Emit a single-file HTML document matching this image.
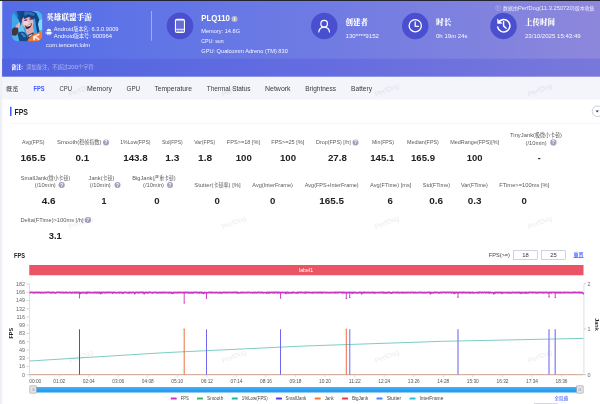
<!DOCTYPE html>
<html lang="zh-CN"><head><meta charset="utf-8"><title>PerfDog FPS</title>
<style>
html,body{margin:0;padding:0;width:600px;height:404px;overflow:hidden;background:#eef0f6;}
#root{position:absolute;left:0;top:0;width:2400px;height:1616px;transform:scale(0.25);transform-origin:0 0;overflow:hidden;background:#eef0f6;}
.b{position:absolute;display:block;}
.t{position:absolute;display:block;white-space:nowrap;}
.c{font-style:normal;font-size:86%;font-weight:400;}
.q{border-radius:50%;background:#9ea2bf;color:#fff;font-family:'Liberation Sans','Noto Sans CJK SC',sans-serif;font-weight:700;text-align:center;}
</style></head><body><div id="root">
<div class="b" style="left:0.00px;top:0.00px;width:2400.00px;height:3.80px;background:#22252f;"></div>
<div class="b" style="left:9.20px;top:4.00px;width:2390.80px;height:303.00px;background:linear-gradient(90deg,#546ce6 0%,#5d73e6 20%,#6f7be3 53%,#8a86dc 96%,#8c87db 100%);"></div>
<div class="b" style="left:9.20px;top:235.00px;width:2390.80px;height:72.00px;background:linear-gradient(90deg,#5062e0 0%,#5868e0 20%,#656ce0 53%,#7777db 96%,#7878db 100%);"></div>
<div class="b" style="left:9.20px;top:307.00px;width:2390.80px;height:90.80px;background:#f4f5fa;"></div>
<div class="b" style="left:9.20px;top:397.80px;width:2390.80px;height:1218.20px;background:#fff;"></div>
<div class="b" style="left:40.00px;top:427.20px;width:6.40px;height:36.80px;background:#3d5afe;"></div>
<div class="b" style="left:40.00px;top:493.60px;width:2360.00px;height:2.40px;background:#ebedf2;"></div>
<div class="b" style="left:604.40px;top:43.60px;width:3.20px;height:119.60px;background:rgba(255,255,255,.4);"></div>
<div class="b" style="left:666.80px;top:50.40px;width:106.40px;height:106.40px;background:#4a4fcf;border-radius:50%;"></div>
<div class="b" style="left:1243.80px;top:51.00px;width:106.40px;height:106.40px;background:#4a4fcf;border-radius:50%;"></div>
<div class="b" style="left:1607.60px;top:51.00px;width:106.40px;height:106.40px;background:#4a4fcf;border-radius:50%;"></div>
<div class="b" style="left:1960.80px;top:51.00px;width:106.40px;height:106.40px;background:#4a4fcf;border-radius:50%;"></div>
<div class="b q" style="left:411.60px;top:557.60px;width:24.80px;height:24.80px;line-height:24.80px;font-size:19.22px;">?</div>
<div class="b q" style="left:1409.60px;top:557.60px;width:24.80px;height:24.80px;line-height:24.80px;font-size:19.22px;">?</div>
<div class="b q" style="left:2200.80px;top:556.80px;width:24.80px;height:24.80px;line-height:24.80px;font-size:19.22px;">?</div>
<div class="b q" style="left:234.40px;top:727.60px;width:24.80px;height:24.80px;line-height:24.80px;font-size:19.22px;">?</div>
<div class="b q" style="left:457.60px;top:727.60px;width:24.80px;height:24.80px;line-height:24.80px;font-size:19.22px;">?</div>
<div class="b q" style="left:667.60px;top:727.60px;width:24.80px;height:24.80px;line-height:24.80px;font-size:19.22px;">?</div>
<div class="b q" style="left:338.80px;top:867.60px;width:24.80px;height:24.80px;line-height:24.80px;font-size:19.22px;">?</div>
<div class="b" style="left:926.40px;top:63.60px;width:23.20px;height:23.20px;border-radius:50%;background:#b9bac4;color:#fff;font:700 18.40px/23.20px 'Liberation Sans','Noto Serif CJK SC',serif;text-align:center;">i</div>
<div class="b" style="left:1981.60px;top:22.40px;width:20.80px;height:20.80px;box-sizing:border-box;border:1.80px solid rgba(255,255,255,.85);border-radius:50%;color:rgba(255,255,255,.9);font:400 15.20px/17.20px 'Liberation Sans','Noto Sans CJK SC',sans-serif;text-align:center;">i</div>
<div class="b" style="left:2368.20px;top:423.00px;width:43.60px;height:43.60px;box-sizing:border-box;border:2.20px solid #9499b3;border-radius:50%;"></div>
<div class="b" style="left:2382.00px;top:441.60px;width:0;height:0;border-left:7.00px solid transparent;border-right:7.00px solid transparent;border-top:8.00px solid #33364f;"></div>
<div class="b" style="left:116.80px;top:1060.00px;width:2217.60px;height:40.80px;background:#ea5465;"></div>
<div class="b" style="left:2052.80px;top:1002.00px;width:98.00px;height:36.40px;box-sizing:border-box;border:2.20px solid #9fa5bf;background:#fff;"></div>
<div class="b" style="left:2164.80px;top:1002.00px;width:98.00px;height:36.40px;box-sizing:border-box;border:2.20px solid #9fa5bf;background:#fff;"></div>
<div class="b" style="left:132.00px;top:1547.60px;width:2188.00px;height:22.00px;background:linear-gradient(#4ab2f6,#2a9ff0 60%,#2299ee);"></div>
<div class="b" style="left:118.00px;top:1542.40px;width:28.80px;height:31.20px;box-sizing:border-box;border:2.00px solid #90939b;background:#e3e4e8;border-radius:3.20px;"></div>
<div class="b" style="left:128.20px;top:1553.20px;width:1.20px;height:10.40px;background:#8c8f96;"></div>
<div class="b" style="left:131.80px;top:1553.20px;width:1.20px;height:10.40px;background:#8c8f96;"></div>
<div class="b" style="left:135.40px;top:1553.20px;width:1.20px;height:10.40px;background:#8c8f96;"></div>
<div class="b" style="left:2305.20px;top:1542.40px;width:28.40px;height:31.20px;box-sizing:border-box;border:2.00px solid #90939b;background:#e3e4e8;border-radius:3.20px;"></div>
<div class="b" style="left:2315.20px;top:1553.20px;width:1.20px;height:10.40px;background:#8c8f96;"></div>
<div class="b" style="left:2318.80px;top:1553.20px;width:1.20px;height:10.40px;background:#8c8f96;"></div>
<div class="b" style="left:2322.40px;top:1553.20px;width:1.20px;height:10.40px;background:#8c8f96;"></div>
<div class="b" style="left:682.80px;top:1589.80px;width:24.00px;height:8.00px;background:#cc33c4;border-radius:2.40px;"></div>
<div class="b" style="left:788.00px;top:1589.80px;width:24.00px;height:8.00px;background:#3cb55e;border-radius:2.40px;"></div>
<div class="b" style="left:926.80px;top:1589.80px;width:24.00px;height:8.00px;background:#1fb3aa;border-radius:2.40px;"></div>
<div class="b" style="left:1104.00px;top:1589.80px;width:24.00px;height:8.00px;background:#4b3ff0;border-radius:2.40px;"></div>
<div class="b" style="left:1258.80px;top:1589.80px;width:24.00px;height:8.00px;background:#f5792a;border-radius:2.40px;"></div>
<div class="b" style="left:1368.00px;top:1589.80px;width:24.00px;height:8.00px;background:#e83b3b;border-radius:2.40px;"></div>
<div class="b" style="left:1506.00px;top:1589.80px;width:24.00px;height:8.00px;background:#3f86ff;border-radius:2.40px;"></div>
<div class="b" style="left:1638.00px;top:1589.80px;width:24.00px;height:8.00px;background:#29c5d6;border-radius:2.40px;"></div>
<div class="b" style="left:2134.80px;top:1612.80px;width:95.20px;height:3.20px;background:#c9c9cf;"></div>
<svg class="b" style="left:45.60px;top:42.80px" width="124" height="123.2" viewBox="0 0 31 30.8">
<defs><clipPath id="ic"><rect x="0" y="0" width="31" height="30.8" rx="7.2" ry="7.2"/></clipPath>
<filter id="bl" x="-20%" y="-20%" width="140%" height="140%"><feGaussianBlur stdDeviation="0.5"/></filter>
<filter id="bl2" x="-20%" y="-20%" width="140%" height="140%"><feGaussianBlur stdDeviation="0.28"/></filter></defs>
<g clip-path="url(#ic)"><rect width="31" height="30.8" fill="#3aa2e4"/>
<g filter="url(#bl)">
<path d="M21 0 L31 0 L31 23 L25 22 L27 10 Z" fill="#48b4ee"/>
<path d="M25 11 L31 8 L31 19 L27.6 20 Z" fill="#86daf8"/>
<path d="M0 5 L8 10 L6 22 L0 24 Z" fill="#3fa8e8"/>
<path d="M6 13 L11 12 L13 21 L7 25 Z" fill="#69c8f2"/>
<path d="M0 24 L8 22 L12 31 L0 31 Z" fill="#4ab4ec"/>
<!-- hair top -->
<path d="M5.5 1.2 C9 -1 20 -1 25 2.6 L27.8 9 L26 15 L23.4 8 L18 5 L12.4 6.4 L9.6 12 L8 6 Z" fill="#15427f"/>
<path d="M13 0.8 C16 0 21 1 23.6 3.6 L22 5.2 L16.6 3.8 L12.4 5 Z" fill="#2a6fb8"/>
<!-- ponytail left up -->
<path d="M3.6 0.6 L8.6 0 L10.4 9 L9.4 15.4 L7.4 9.6 L5 5 Z" fill="#184a8c"/>
<path d="M1.6 1 L5 0.4 L7.2 6.4 L4.4 5 Z" fill="#2c7fca"/>
<!-- braid right -->
<path d="M23.6 8.6 L26.2 11.6 L28 21 L25.8 23 L24.6 16 Z" fill="#164382"/>
<!-- lower hair sweep -->
<path d="M6 23 C9 19.6 12.4 20 15 24 L18.4 31 L8 31 Z" fill="#17488a"/>
<path d="M9 22.4 C11.4 21.4 13.2 23 14.8 26.6 L12 26.4 Z" fill="#3585cc"/>
<!-- neck/shoulder -->
<path d="M14.6 16 L21.4 15 L23 23.6 L16.4 25.4 L14.4 21 Z" fill="#d9a9b4"/>
<!-- face -->
<ellipse cx="16.2" cy="11.4" rx="5.6" ry="7.0" transform="rotate(-16 16.2 11.4)" fill="#e3b6c2"/>
<ellipse cx="14.6" cy="12.6" rx="2.6" ry="3.0" fill="#f0d3d9"/>
<path d="M11.4 5.6 L17 3.8 L22.6 6.6 L22 9 L17.6 6.2 L12.6 8.2 Z" fill="#15427f"/>
</g>
<g filter="url(#bl2)">
<!-- eyes -->
<path d="M12.6 9.2 L15.6 8.4 L15.8 9.7 L13 10.3 Z" fill="#5b2346"/>
<path d="M17.8 7.8 L20.8 7.3 L20.9 8.7 L18.2 9 Z" fill="#5b2346"/>
<!-- mouth -->
<path d="M13 14.4 C15.4 15.2 18.6 14.2 20.4 12.2 C20.4 16.2 17.2 18.8 14.8 18 Z" fill="#4e1c2c"/>
<path d="M13.8 14.7 C15.8 15.2 18.2 14.5 19.8 13 L19.5 14.2 C18 15.6 15.6 16 14.2 15.6 Z" fill="#fff"/>
<!-- hand -->
<path d="M0.4 18.4 L3.6 16 L6.6 17.4 L7 21.4 L4.4 25 L0.4 24.6 Z" fill="#43343f"/>
<path d="M4.8 15.8 L7.6 11.6 L8.7 12.4 L7.2 16.8 Z" fill="#e4bcbc"/>
<path d="M3.4 16.4 L5.6 13 L6.5 13.8 L5.2 17 Z" fill="#cfa7ab"/>
<!-- orange -->
<path d="M18 25 L25 22.6 L31 20.6 L31 31 L15.8 31 Z" fill="#f4783a"/>
<path d="M21.4 25.4 L27.6 22.8 L28 24.2 L25 25.8 L28.2 28.4 L27 29.4 L24 26.9 L23.4 29.6 L21.8 29.4 Z" fill="#fde9dc"/>
<!-- necklace dark -->
<path d="M15.6 24.4 L21.8 21.4 L22.6 23.2 L18.6 26.8 L17 28.4 Z" fill="#45434f"/>
<path d="M16.8 25.2 L20.6 23.2 L21 24 L17.6 26.4 Z" fill="#d8d2cc"/>
</g></g></svg>
<svg class="b" style="left:0;top:0" width="2400" height="400" viewBox="0 0 600 100" fill="none" stroke="#fff" stroke-linecap="round" stroke-linejoin="round">
<rect x="175.45" y="19.3" width="9.0" height="13.1" rx="1.5" stroke-width="1.1" fill="rgba(255,255,255,.16)"/><path d="M176.4 19.9 H183.5" stroke-width="1.3"/>
<path d="M175.5 29.3 H184.5" stroke-width="0.9"/><path d="M177.6 31 h1.6 M180.8 31 h1.6" stroke-width="0.7"/>
<circle cx="324.15" cy="23.7" r="3.3" stroke-width="1.2"/><path d="M318.8 32.0 a5.35 4.9 0 0 1 10.7 0" stroke-width="1.2"/>
<circle cx="415.25" cy="25.7" r="6.1" stroke-width="1.3"/><path d="M415.2 22.0 V26.3 H418.4" stroke-width="1.3"/>
<path d="M498.44 22.51 A6.2 6.2 0 1 1 497.64 27.09" stroke-width="1.55"/><path d="M497.5 19.4 L497.8 23.6 L501.8 23.3 Z" fill="#fff" stroke-width="0.6"/><path d="M503.6 21.6 V25.9 L506.1 28.2" stroke-width="1.45"/>
<g stroke="none" fill="rgba(255,255,255,.92)" transform="translate(0,-1.0)"><path d="M46.6 32.3 a2.3 2.6 0 0 1 4.6 0 z"/><rect x="46.6" y="32.7" width="4.6" height="2.6" rx="0.5"/><rect x="45.6" y="32.7" width="0.7" height="2" rx="0.3"/><rect x="51.5" y="32.7" width="0.7" height="2" rx="0.3"/><rect x="47.5" y="35" width="0.8" height="1.3" rx="0.3"/><rect x="49.5" y="35" width="0.8" height="1.3" rx="0.3"/></g>
</svg>
<svg class="b" style="left:0;top:0" width="2400" height="1616" viewBox="0 0 2400 1616">
<line x1="118.0" y1="1134.0" x2="118.0" y2="1500.0" stroke="#d9dbe6" stroke-width="3.60" opacity="1"/>
<line x1="2335.6" y1="1134.0" x2="2335.6" y2="1500.0" stroke="#d9dbe6" stroke-width="3.60" opacity="1"/>
<line x1="106.4" y1="1136.0" x2="115.2" y2="1136.0" stroke="#888" stroke-width="1.60" opacity="1"/>
<line x1="106.4" y1="1169.0" x2="115.2" y2="1169.0" stroke="#888" stroke-width="1.60" opacity="1"/>
<line x1="106.4" y1="1202.0" x2="115.2" y2="1202.0" stroke="#888" stroke-width="1.60" opacity="1"/>
<line x1="106.4" y1="1234.9" x2="115.2" y2="1234.9" stroke="#888" stroke-width="1.60" opacity="1"/>
<line x1="106.4" y1="1267.9" x2="115.2" y2="1267.9" stroke="#888" stroke-width="1.60" opacity="1"/>
<line x1="106.4" y1="1300.9" x2="115.2" y2="1300.9" stroke="#888" stroke-width="1.60" opacity="1"/>
<line x1="106.4" y1="1333.9" x2="115.2" y2="1333.9" stroke="#888" stroke-width="1.60" opacity="1"/>
<line x1="106.4" y1="1366.9" x2="115.2" y2="1366.9" stroke="#888" stroke-width="1.60" opacity="1"/>
<line x1="106.4" y1="1399.8" x2="115.2" y2="1399.8" stroke="#888" stroke-width="1.60" opacity="1"/>
<line x1="106.4" y1="1432.8" x2="115.2" y2="1432.8" stroke="#888" stroke-width="1.60" opacity="1"/>
<line x1="106.4" y1="1465.8" x2="115.2" y2="1465.8" stroke="#888" stroke-width="1.60" opacity="1"/>
<line x1="106.4" y1="1498.8" x2="115.2" y2="1498.8" stroke="#888" stroke-width="1.60" opacity="1"/>
<line x1="2336.0" y1="1134.8" x2="2344.0" y2="1134.8" stroke="#888" stroke-width="1.60" opacity="1"/>
<line x1="2336.0" y1="1316.0" x2="2344.0" y2="1316.0" stroke="#888" stroke-width="1.60" opacity="1"/>
<line x1="2336.0" y1="1498.8" x2="2344.0" y2="1498.8" stroke="#888" stroke-width="1.60" opacity="1"/>
<line x1="118.4" y1="1500.8" x2="118.4" y2="1508.0" stroke="#aaa" stroke-width="1.60" opacity="1"/>
<line x1="236.6" y1="1500.8" x2="236.6" y2="1508.0" stroke="#aaa" stroke-width="1.60" opacity="1"/>
<line x1="354.8" y1="1500.8" x2="354.8" y2="1508.0" stroke="#aaa" stroke-width="1.60" opacity="1"/>
<line x1="473.0" y1="1500.8" x2="473.0" y2="1508.0" stroke="#aaa" stroke-width="1.60" opacity="1"/>
<line x1="591.2" y1="1500.8" x2="591.2" y2="1508.0" stroke="#aaa" stroke-width="1.60" opacity="1"/>
<line x1="709.4" y1="1500.8" x2="709.4" y2="1508.0" stroke="#aaa" stroke-width="1.60" opacity="1"/>
<line x1="827.6" y1="1500.8" x2="827.6" y2="1508.0" stroke="#aaa" stroke-width="1.60" opacity="1"/>
<line x1="945.8" y1="1500.8" x2="945.8" y2="1508.0" stroke="#aaa" stroke-width="1.60" opacity="1"/>
<line x1="1064.0" y1="1500.8" x2="1064.0" y2="1508.0" stroke="#aaa" stroke-width="1.60" opacity="1"/>
<line x1="1182.2" y1="1500.8" x2="1182.2" y2="1508.0" stroke="#aaa" stroke-width="1.60" opacity="1"/>
<line x1="1300.4" y1="1500.8" x2="1300.4" y2="1508.0" stroke="#aaa" stroke-width="1.60" opacity="1"/>
<line x1="1418.6" y1="1500.8" x2="1418.6" y2="1508.0" stroke="#aaa" stroke-width="1.60" opacity="1"/>
<line x1="1536.8" y1="1500.8" x2="1536.8" y2="1508.0" stroke="#aaa" stroke-width="1.60" opacity="1"/>
<line x1="1655.0" y1="1500.8" x2="1655.0" y2="1508.0" stroke="#aaa" stroke-width="1.60" opacity="1"/>
<line x1="1773.2" y1="1500.8" x2="1773.2" y2="1508.0" stroke="#aaa" stroke-width="1.60" opacity="1"/>
<line x1="1891.4" y1="1500.8" x2="1891.4" y2="1508.0" stroke="#aaa" stroke-width="1.60" opacity="1"/>
<line x1="2009.6" y1="1500.8" x2="2009.6" y2="1508.0" stroke="#aaa" stroke-width="1.60" opacity="1"/>
<line x1="2127.8" y1="1500.8" x2="2127.8" y2="1508.0" stroke="#aaa" stroke-width="1.60" opacity="1"/>
<line x1="2246.0" y1="1500.8" x2="2246.0" y2="1508.0" stroke="#aaa" stroke-width="1.60" opacity="1"/>
<path d="M118.0 1444 Q1200 1369.6 2334.0 1353.6" fill="none" stroke="#64c4b9" stroke-width="3.4"/>
<line x1="118.0" y1="1498.8" x2="2334.0" y2="1498.8" stroke="#c9a08c" stroke-width="4.00" opacity="1"/>
<line x1="318.0" y1="1317.2" x2="318.0" y2="1498.4" stroke="#4f47e8" stroke-width="4.00" opacity="1"/>
<line x1="826.0" y1="1317.2" x2="826.0" y2="1498.4" stroke="#6f68ef" stroke-width="4.00" opacity="1"/>
<line x1="1122.0" y1="1317.2" x2="1122.0" y2="1498.4" stroke="#6f68ef" stroke-width="4.00" opacity="1"/>
<line x1="1399.2" y1="1317.2" x2="1399.2" y2="1498.4" stroke="#6f68ef" stroke-width="4.00" opacity="1"/>
<line x1="1832.0" y1="1317.2" x2="1832.0" y2="1498.4" stroke="#7f79f2" stroke-width="4.80" opacity="1"/>
<line x1="2196.0" y1="1317.2" x2="2196.0" y2="1498.4" stroke="#7f79f2" stroke-width="4.80" opacity="1"/>
<line x1="2220.8" y1="1317.2" x2="2220.8" y2="1498.4" stroke="#7f79f2" stroke-width="4.80" opacity="1"/>
<line x1="736.8" y1="1317.2" x2="736.8" y2="1498.4" stroke="#e8622a" stroke-width="3.60" opacity="1"/>
<circle cx="736.8" cy="1316.8" r="3.2" fill="#f58a2e"/>
<line x1="1385.2" y1="1317.2" x2="1385.2" y2="1498.4" stroke="#e5502f" stroke-width="3.40" opacity="1"/>
<circle cx="1385.2" cy="1316.8" r="3.2" fill="#f58a2e"/>
<path d="M118.0 1169.9 L119.8 1170.6 L121.6 1170.4 L123.4 1169.3 L125.2 1169.3 L127.0 1169.4 L128.8 1170.1 L130.6 1169.5 L132.4 1170.6 L134.2 1170.5 L136.0 1171.3 L137.8 1171.1 L139.6 1169.5 L141.4 1169.9 L143.2 1169.6 L145.0 1170.6 L146.8 1170.4 L148.6 1169.3 L150.4 1170.7 L152.2 1169.9 L154.0 1170.2 L155.8 1170.9 L157.6 1169.7 L159.4 1170.4 L161.2 1170.8 L163.0 1171.4 L164.8 1170.1 L166.6 1169.5 L168.4 1169.3 L170.2 1170.9 L172.0 1171.1 L173.8 1170.7 L175.6 1170.5 L177.4 1171.0 L179.2 1170.2 L181.0 1169.3 L182.8 1170.6 L184.6 1171.0 L186.4 1170.0 L188.2 1169.2 L190.0 1169.6 L191.8 1169.3 L193.6 1169.5 L195.4 1170.1 L197.2 1169.4 L199.0 1170.4 L200.8 1171.0 L202.6 1169.8 L204.4 1170.0 L206.2 1171.3 L208.0 1169.6 L209.8 1169.7 L211.6 1170.5 L213.4 1169.2 L215.2 1170.0 L217.0 1171.3 L218.8 1170.3 L220.6 1170.7 L222.4 1171.2 L224.2 1171.1 L226.0 1170.1 L227.8 1169.4 L229.6 1169.3 L231.4 1169.7 L233.2 1169.9 L235.0 1169.2 L236.8 1169.4 L238.6 1169.3 L240.4 1170.6 L242.2 1169.8 L244.0 1170.0 L245.8 1171.1 L247.6 1170.2 L249.4 1169.4 L251.2 1170.0 L253.0 1171.0 L254.8 1169.3 L256.6 1170.4 L258.4 1170.4 L260.2 1170.4 L262.0 1171.1 L263.8 1169.8 L265.6 1169.6 L267.4 1170.4 L269.2 1169.9 L271.0 1171.0 L272.8 1171.1 L274.6 1171.0 L276.4 1169.7 L278.2 1170.0 L280.0 1169.3 L281.8 1169.8 L283.6 1171.3 L285.4 1171.3 L287.2 1171.3 L289.0 1169.7 L290.8 1169.6 L292.6 1170.6 L294.4 1171.0 L296.2 1170.6 L298.0 1169.4 L299.8 1171.2 L301.6 1170.9 L303.4 1169.6 L305.2 1169.9 L307.0 1171.3 L308.8 1170.1 L310.6 1170.8 L312.4 1169.5 L314.2 1171.2 L316.0 1169.5 L317.8 1171.4 L319.6 1170.0 L321.4 1173.8 L323.2 1170.6 L325.0 1171.3 L326.8 1171.1 L328.6 1169.7 L330.4 1169.8 L332.2 1170.5 L334.0 1170.1 L335.8 1171.2 L337.6 1170.2 L339.4 1171.2 L341.2 1171.2 L343.0 1170.4 L344.8 1169.2 L346.6 1173.5 L348.4 1169.6 L350.2 1170.8 L352.0 1169.9 L353.8 1170.4 L355.6 1169.4 L357.4 1169.7 L359.2 1170.9 L361.0 1170.4 L362.8 1171.2 L364.6 1170.5 L366.4 1170.3 L368.2 1170.2 L370.0 1170.3 L371.8 1170.7 L373.6 1171.3 L375.4 1170.4 L377.2 1171.0 L379.0 1169.5 L380.8 1169.4 L382.6 1169.4 L384.4 1170.9 L386.2 1169.5 L388.0 1170.7 L389.8 1171.1 L391.6 1169.7 L393.4 1170.1 L395.2 1171.4 L397.0 1169.6 L398.8 1170.3 L400.6 1169.6 L402.4 1174.1 L404.2 1173.0 L406.0 1170.6 L407.8 1169.3 L409.6 1170.9 L411.4 1169.4 L413.2 1169.3 L415.0 1169.8 L416.8 1170.1 L418.6 1171.0 L420.4 1169.5 L422.2 1170.5 L424.0 1169.4 L425.8 1170.7 L427.6 1169.4 L429.4 1170.6 L431.2 1169.4 L433.0 1169.3 L434.8 1170.2 L436.6 1170.4 L438.4 1169.8 L440.2 1170.4 L442.0 1169.4 L443.8 1169.3 L445.6 1169.9 L447.4 1170.9 L449.2 1170.3 L451.0 1172.6 L452.8 1169.2 L454.6 1170.4 L456.4 1170.2 L458.2 1169.4 L460.0 1170.2 L461.8 1171.0 L463.6 1170.3 L465.4 1171.4 L467.2 1171.0 L469.0 1170.6 L470.8 1170.0 L472.6 1169.5 L474.4 1170.8 L476.2 1169.6 L478.0 1171.1 L479.8 1170.7 L481.6 1169.7 L483.4 1170.2 L485.2 1170.2 L487.0 1171.3 L488.8 1170.4 L490.6 1171.3 L492.4 1172.9 L494.2 1170.2 L496.0 1169.6 L497.8 1169.2 L499.6 1169.4 L501.4 1169.3 L503.2 1169.9 L505.0 1170.5 L506.8 1170.9 L508.6 1170.8 L510.4 1170.1 L512.2 1171.4 L514.0 1170.8 L515.8 1169.3 L517.6 1171.2 L519.4 1170.8 L521.2 1169.5 L523.0 1170.3 L524.8 1171.0 L526.6 1170.5 L528.4 1170.7 L530.2 1169.7 L532.0 1169.5 L533.8 1169.4 L535.6 1170.4 L537.4 1170.6 L539.2 1174.2 L541.0 1170.8 L542.8 1170.4 L544.6 1169.3 L546.4 1169.8 L548.2 1169.8 L550.0 1169.7 L551.8 1171.3 L553.6 1170.0 L555.4 1170.7 L557.2 1170.6 L559.0 1169.4 L560.8 1169.8 L562.6 1169.9 L564.4 1169.2 L566.2 1169.8 L568.0 1170.7 L569.8 1169.8 L571.6 1170.2 L573.4 1169.5 L575.2 1169.6 L577.0 1174.4 L578.8 1171.0 L580.6 1170.2 L582.4 1169.7 L584.2 1169.7 L586.0 1169.5 L587.8 1171.3 L589.6 1171.0 L591.4 1171.2 L593.2 1169.7 L595.0 1170.3 L596.8 1169.2 L598.6 1170.2 L600.4 1169.5 L602.2 1169.9 L604.0 1169.2 L605.8 1171.0 L607.6 1171.2 L609.4 1171.2 L611.2 1170.0 L613.0 1171.4 L614.8 1170.0 L616.6 1169.8 L618.4 1169.4 L620.2 1169.8 L622.0 1169.7 L623.8 1170.3 L625.6 1170.0 L627.4 1171.1 L629.2 1170.6 L631.0 1171.3 L632.8 1170.8 L634.6 1170.8 L636.4 1170.9 L638.2 1169.8 L640.0 1171.2 L641.8 1170.2 L643.6 1169.9 L645.4 1171.3 L647.2 1170.6 L649.0 1170.4 L650.8 1169.6 L652.6 1169.7 L654.4 1170.3 L656.2 1171.2 L658.0 1170.2 L659.8 1169.6 L661.6 1170.0 L663.4 1169.7 L665.2 1170.5 L667.0 1170.8 L668.8 1170.1 L670.6 1170.0 L672.4 1169.3 L674.2 1171.3 L676.0 1170.3 L677.8 1171.1 L679.6 1169.8 L681.4 1170.1 L683.2 1171.3 L685.0 1171.1 L686.8 1169.3 L688.6 1171.2 L690.4 1173.4 L692.2 1171.2 L694.0 1171.1 L695.8 1169.7 L697.6 1169.5 L699.4 1170.7 L701.2 1170.8 L703.0 1170.9 L704.8 1170.4 L706.6 1170.9 L708.4 1171.2 L710.2 1169.9 L712.0 1169.8 L713.8 1170.7 L715.6 1169.4 L717.4 1170.5 L719.2 1169.7 L721.0 1169.2 L722.8 1170.2 L724.6 1170.6 L726.4 1170.2 L728.2 1169.7 L730.0 1170.8 L731.8 1169.2 L733.6 1170.7 L735.4 1169.8 L737.2 1171.2 L739.0 1169.3 L740.8 1170.1 L742.6 1169.6 L744.4 1170.8 L746.2 1169.7 L748.0 1169.9 L749.8 1169.7 L751.6 1170.9 L753.4 1171.3 L755.2 1169.6 L757.0 1170.1 L758.8 1171.3 L760.6 1170.1 L762.4 1171.3 L764.2 1169.3 L766.0 1170.1 L767.8 1171.1 L769.6 1171.4 L771.4 1169.9 L773.2 1171.3 L775.0 1169.3 L776.8 1170.0 L778.6 1169.9 L780.4 1169.2 L782.2 1170.0 L784.0 1169.5 L785.8 1169.7 L787.6 1171.0 L789.4 1170.2 L791.2 1170.2 L793.0 1171.2 L794.8 1170.0 L796.6 1169.3 L798.4 1171.0 L800.2 1169.3 L802.0 1169.3 L803.8 1169.8 L805.6 1171.2 L807.4 1169.8 L809.2 1170.6 L811.0 1170.8 L812.8 1173.6 L814.6 1171.2 L816.4 1171.3 L818.2 1169.7 L820.0 1171.3 L821.8 1170.1 L823.6 1170.1 L825.4 1171.2 L827.2 1171.0 L829.0 1171.0 L830.8 1170.5 L832.6 1169.9 L834.4 1170.9 L836.2 1169.6 L838.0 1169.7 L839.8 1169.3 L841.6 1169.9 L843.4 1171.1 L845.2 1169.8 L847.0 1169.4 L848.8 1170.8 L850.6 1169.7 L852.4 1170.6 L854.2 1170.8 L856.0 1170.7 L857.8 1171.0 L859.6 1170.4 L861.4 1170.8 L863.2 1169.7 L865.0 1169.5 L866.8 1170.5 L868.6 1170.1 L870.4 1170.3 L872.2 1171.0 L874.0 1171.4 L875.8 1170.2 L877.6 1171.0 L879.4 1169.3 L881.2 1169.5 L883.0 1171.3 L884.8 1171.2 L886.6 1171.1 L888.4 1169.8 L890.2 1171.3 L892.0 1170.5 L893.8 1169.7 L895.6 1169.5 L897.4 1169.8 L899.2 1170.6 L901.0 1169.2 L902.8 1170.7 L904.6 1169.9 L906.4 1170.9 L908.2 1169.3 L910.0 1170.1 L911.8 1170.6 L913.6 1169.6 L915.4 1170.1 L917.2 1169.9 L919.0 1169.9 L920.8 1170.0 L922.6 1171.1 L924.4 1170.0 L926.2 1170.8 L928.0 1169.2 L929.8 1170.1 L931.6 1170.1 L933.4 1170.2 L935.2 1169.2 L937.0 1170.6 L938.8 1169.4 L940.6 1170.0 L942.4 1169.5 L944.2 1170.3 L946.0 1169.4 L947.8 1171.0 L949.6 1169.6 L951.4 1171.3 L953.2 1170.3 L955.0 1171.2 L956.8 1171.2 L958.6 1171.0 L960.4 1170.9 L962.2 1170.1 L964.0 1171.0 L965.8 1169.7 L967.6 1170.3 L969.4 1169.5 L971.2 1170.8 L973.0 1169.3 L974.8 1170.9 L976.6 1171.0 L978.4 1170.5 L980.2 1170.6 L982.0 1170.1 L983.8 1170.1 L985.6 1170.2 L987.4 1169.3 L989.2 1170.3 L991.0 1170.9 L992.8 1170.2 L994.6 1170.2 L996.4 1169.5 L998.2 1169.4 L1000.0 1170.3 L1001.8 1170.6 L1003.6 1170.8 L1005.4 1170.3 L1007.2 1170.3 L1009.0 1171.3 L1010.8 1171.1 L1012.6 1170.8 L1014.4 1169.6 L1016.2 1170.3 L1018.0 1171.2 L1019.8 1170.9 L1021.6 1169.3 L1023.4 1170.9 L1025.2 1171.2 L1027.0 1171.0 L1028.8 1170.3 L1030.6 1169.7 L1032.4 1170.3 L1034.2 1169.3 L1036.0 1169.6 L1037.8 1170.7 L1039.6 1169.6 L1041.4 1169.5 L1043.2 1170.6 L1045.0 1171.1 L1046.8 1170.5 L1048.6 1169.4 L1050.4 1170.6 L1052.2 1171.0 L1054.0 1171.4 L1055.8 1170.0 L1057.6 1170.2 L1059.4 1170.8 L1061.2 1171.0 L1063.0 1170.6 L1064.8 1170.5 L1066.6 1172.0 L1068.4 1169.5 L1070.2 1170.2 L1072.0 1171.2 L1073.8 1169.7 L1075.6 1172.1 L1077.4 1169.4 L1079.2 1169.7 L1081.0 1170.5 L1082.8 1170.6 L1084.6 1169.5 L1086.4 1169.7 L1088.2 1169.4 L1090.0 1171.1 L1091.8 1170.1 L1093.6 1169.2 L1095.4 1170.4 L1097.2 1170.6 L1099.0 1171.3 L1100.8 1169.7 L1102.6 1169.3 L1104.4 1170.1 L1106.2 1169.3 L1108.0 1169.2 L1109.8 1171.3 L1111.6 1169.6 L1113.4 1170.3 L1115.2 1171.0 L1117.0 1169.9 L1118.8 1169.3 L1120.6 1170.9 L1122.4 1169.2 L1124.2 1170.8 L1126.0 1170.8 L1127.8 1169.7 L1129.6 1169.7 L1131.4 1169.9 L1133.2 1170.7 L1135.0 1170.8 L1136.8 1170.4 L1138.6 1170.9 L1140.4 1169.8 L1142.2 1171.3 L1144.0 1173.8 L1145.8 1169.7 L1147.6 1171.3 L1149.4 1169.9 L1151.2 1169.9 L1153.0 1171.2 L1154.8 1170.7 L1156.6 1171.4 L1158.4 1171.0 L1160.2 1171.1 L1162.0 1170.8 L1163.8 1169.9 L1165.6 1170.6 L1167.4 1171.2 L1169.2 1169.3 L1171.0 1171.2 L1172.8 1169.5 L1174.6 1169.3 L1176.4 1170.6 L1178.2 1170.8 L1180.0 1170.5 L1181.8 1171.0 L1183.6 1171.2 L1185.4 1171.1 L1187.2 1171.3 L1189.0 1169.7 L1190.8 1169.3 L1192.6 1171.0 L1194.4 1171.0 L1196.2 1169.8 L1198.0 1169.4 L1199.8 1169.7 L1201.6 1170.1 L1203.4 1169.8 L1205.2 1170.8 L1207.0 1169.9 L1208.8 1170.3 L1210.6 1170.6 L1212.4 1170.1 L1214.2 1170.9 L1216.0 1170.8 L1217.8 1169.7 L1219.6 1169.4 L1221.4 1172.1 L1223.2 1170.9 L1225.0 1169.2 L1226.8 1170.3 L1228.6 1169.6 L1230.4 1170.0 L1232.2 1169.8 L1234.0 1169.8 L1235.8 1170.7 L1237.6 1169.4 L1239.4 1169.4 L1241.2 1170.7 L1243.0 1170.6 L1244.8 1170.1 L1246.6 1171.2 L1248.4 1171.2 L1250.2 1169.7 L1252.0 1171.2 L1253.8 1170.0 L1255.6 1169.7 L1257.4 1170.4 L1259.2 1170.9 L1261.0 1170.0 L1262.8 1169.5 L1264.6 1170.7 L1266.4 1169.6 L1268.2 1170.9 L1270.0 1169.5 L1271.8 1171.1 L1273.6 1169.6 L1275.4 1170.7 L1277.2 1169.5 L1279.0 1169.7 L1280.8 1170.3 L1282.6 1169.9 L1284.4 1171.3 L1286.2 1169.4 L1288.0 1169.4 L1289.8 1171.4 L1291.6 1170.8 L1293.4 1169.6 L1295.2 1169.4 L1297.0 1170.1 L1298.8 1170.1 L1300.6 1170.7 L1302.4 1170.6 L1304.2 1169.5 L1306.0 1170.1 L1307.8 1171.2 L1309.6 1170.5 L1311.4 1170.1 L1313.2 1170.8 L1315.0 1170.9 L1316.8 1171.1 L1318.6 1170.6 L1320.4 1169.9 L1322.2 1169.4 L1324.0 1170.9 L1325.8 1170.6 L1327.6 1170.1 L1329.4 1170.6 L1331.2 1170.7 L1333.0 1169.6 L1334.8 1170.9 L1336.6 1170.3 L1338.4 1169.3 L1340.2 1169.6 L1342.0 1171.3 L1343.8 1169.4 L1345.6 1170.4 L1347.4 1170.3 L1349.2 1171.0 L1351.0 1170.1 L1352.8 1169.7 L1354.6 1170.1 L1356.4 1169.5 L1358.2 1170.0 L1360.0 1169.8 L1361.8 1169.2 L1363.6 1170.1 L1365.4 1170.0 L1367.2 1169.7 L1369.0 1171.3 L1370.8 1169.7 L1372.6 1170.1 L1374.4 1169.5 L1376.2 1171.0 L1378.0 1170.2 L1379.8 1169.7 L1381.6 1170.0 L1383.4 1171.0 L1385.2 1170.2 L1387.0 1170.4 L1388.8 1171.0 L1390.6 1171.1 L1392.4 1170.0 L1394.2 1170.1 L1396.0 1169.2 L1397.8 1169.8 L1399.6 1169.9 L1401.4 1170.1 L1403.2 1170.7 L1405.0 1171.2 L1406.8 1169.3 L1408.6 1171.2 L1410.4 1169.5 L1412.2 1172.6 L1414.0 1171.3 L1415.8 1169.8 L1417.6 1169.5 L1419.4 1170.9 L1421.2 1169.5 L1423.0 1170.9 L1424.8 1171.2 L1426.6 1170.9 L1428.4 1171.2 L1430.2 1171.0 L1432.0 1170.7 L1433.8 1170.8 L1435.6 1171.1 L1437.4 1169.8 L1439.2 1169.5 L1441.0 1169.3 L1442.8 1169.5 L1444.6 1170.3 L1446.4 1175.1 L1448.2 1170.2 L1450.0 1170.7 L1451.8 1170.0 L1453.6 1171.3 L1455.4 1170.6 L1457.2 1169.3 L1459.0 1170.7 L1460.8 1169.9 L1462.6 1170.3 L1464.4 1171.2 L1466.2 1170.8 L1468.0 1169.9 L1469.8 1170.0 L1471.6 1170.4 L1473.4 1169.7 L1475.2 1170.1 L1477.0 1171.0 L1478.8 1171.0 L1480.6 1170.3 L1482.4 1170.3 L1484.2 1170.6 L1486.0 1169.9 L1487.8 1169.9 L1489.6 1170.6 L1491.4 1169.3 L1493.2 1171.1 L1495.0 1169.3 L1496.8 1169.2 L1498.6 1171.2 L1500.4 1170.6 L1502.2 1171.2 L1504.0 1170.6 L1505.8 1170.7 L1507.6 1170.7 L1509.4 1170.7 L1511.2 1170.9 L1513.0 1169.6 L1514.8 1170.9 L1516.6 1170.6 L1518.4 1171.0 L1520.2 1170.4 L1522.0 1169.9 L1523.8 1169.9 L1525.6 1170.6 L1527.4 1169.3 L1529.2 1169.3 L1531.0 1171.0 L1532.8 1171.2 L1534.6 1169.2 L1536.4 1170.5 L1538.2 1171.4 L1540.0 1170.1 L1541.8 1170.6 L1543.6 1171.5 L1545.4 1170.7 L1547.2 1171.3 L1549.0 1171.1 L1550.8 1169.2 L1552.6 1169.7 L1554.4 1169.6 L1556.2 1170.9 L1558.0 1171.1 L1559.8 1169.4 L1561.6 1170.8 L1563.4 1171.3 L1565.2 1171.3 L1567.0 1172.8 L1568.8 1171.0 L1570.6 1169.9 L1572.4 1169.6 L1574.2 1170.3 L1576.0 1170.0 L1577.8 1170.2 L1579.6 1169.5 L1581.4 1170.0 L1583.2 1170.6 L1585.0 1170.0 L1586.8 1171.3 L1588.6 1170.4 L1590.4 1169.3 L1592.2 1170.7 L1594.0 1169.9 L1595.8 1171.4 L1597.6 1170.5 L1599.4 1170.1 L1601.2 1170.0 L1603.0 1170.5 L1604.8 1171.0 L1606.6 1169.2 L1608.4 1170.1 L1610.2 1171.0 L1612.0 1169.3 L1613.8 1171.0 L1615.6 1170.5 L1617.4 1171.1 L1619.2 1170.7 L1621.0 1170.0 L1622.8 1170.4 L1624.6 1169.6 L1626.4 1171.2 L1628.2 1170.5 L1630.0 1170.2 L1631.8 1169.8 L1633.6 1170.9 L1635.4 1169.4 L1637.2 1170.9 L1639.0 1170.5 L1640.8 1171.1 L1642.6 1170.2 L1644.4 1169.6 L1646.2 1169.6 L1648.0 1170.0 L1649.8 1170.1 L1651.6 1169.5 L1653.4 1171.4 L1655.2 1169.4 L1657.0 1170.9 L1658.8 1170.5 L1660.6 1170.3 L1662.4 1169.3 L1664.2 1171.1 L1666.0 1170.4 L1667.8 1170.9 L1669.6 1171.3 L1671.4 1171.0 L1673.2 1169.8 L1675.0 1169.6 L1676.8 1169.4 L1678.6 1170.4 L1680.4 1170.2 L1682.2 1171.2 L1684.0 1170.5 L1685.8 1169.5 L1687.6 1169.8 L1689.4 1170.6 L1691.2 1170.7 L1693.0 1170.2 L1694.8 1171.3 L1696.6 1169.7 L1698.4 1169.8 L1700.2 1171.2 L1702.0 1171.0 L1703.8 1170.9 L1705.6 1170.6 L1707.4 1169.3 L1709.2 1170.9 L1711.0 1170.7 L1712.8 1170.5 L1714.6 1169.4 L1716.4 1169.8 L1718.2 1170.3 L1720.0 1169.7 L1721.8 1174.4 L1723.6 1169.6 L1725.4 1171.2 L1727.2 1171.3 L1729.0 1171.2 L1730.8 1170.2 L1732.6 1171.2 L1734.4 1170.6 L1736.2 1169.9 L1738.0 1170.3 L1739.8 1169.5 L1741.6 1169.3 L1743.4 1170.4 L1745.2 1171.1 L1747.0 1170.1 L1748.8 1169.8 L1750.6 1169.9 L1752.4 1170.3 L1754.2 1171.2 L1756.0 1171.4 L1757.8 1171.2 L1759.6 1169.7 L1761.4 1169.8 L1763.2 1169.6 L1765.0 1171.4 L1766.8 1171.2 L1768.6 1169.8 L1770.4 1169.3 L1772.2 1169.8 L1774.0 1169.2 L1775.8 1169.9 L1777.6 1169.2 L1779.4 1170.4 L1781.2 1170.2 L1783.0 1169.7 L1784.8 1169.5 L1786.6 1170.9 L1788.4 1169.6 L1790.2 1169.4 L1792.0 1170.3 L1793.8 1169.7 L1795.6 1170.8 L1797.4 1170.5 L1799.2 1169.3 L1801.0 1170.1 L1802.8 1169.3 L1804.6 1169.9 L1806.4 1171.1 L1808.2 1169.2 L1810.0 1170.2 L1811.8 1169.8 L1813.6 1171.0 L1815.4 1169.6 L1817.2 1173.8 L1819.0 1170.2 L1820.8 1169.5 L1822.6 1171.0 L1824.4 1169.9 L1826.2 1170.0 L1828.0 1169.3 L1829.8 1171.3 L1831.6 1170.3 L1833.4 1170.4 L1835.2 1171.3 L1837.0 1169.6 L1838.8 1169.8 L1840.6 1169.3 L1842.4 1170.7 L1844.2 1169.2 L1846.0 1170.5 L1847.8 1170.7 L1849.6 1171.1 L1851.4 1169.3 L1853.2 1170.3 L1855.0 1169.8 L1856.8 1170.1 L1858.6 1170.5 L1860.4 1169.5 L1862.2 1170.8 L1864.0 1171.0 L1865.8 1170.1 L1867.6 1171.0 L1869.4 1170.1 L1871.2 1170.9 L1873.0 1169.7 L1874.8 1170.2 L1876.6 1171.0 L1878.4 1171.0 L1880.2 1169.3 L1882.0 1171.3 L1883.8 1169.7 L1885.6 1170.6 L1887.4 1170.4 L1889.2 1170.2 L1891.0 1169.2 L1892.8 1171.3 L1894.6 1171.3 L1896.4 1171.0 L1898.2 1171.1 L1900.0 1170.6 L1901.8 1170.7 L1903.6 1170.4 L1905.4 1170.6 L1907.2 1170.3 L1909.0 1171.3 L1910.8 1169.9 L1912.6 1169.5 L1914.4 1171.3 L1916.2 1169.8 L1918.0 1170.4 L1919.8 1169.5 L1921.6 1169.8 L1923.4 1169.8 L1925.2 1169.4 L1927.0 1171.0 L1928.8 1170.5 L1930.6 1169.6 L1932.4 1170.2 L1934.2 1170.5 L1936.0 1169.9 L1937.8 1169.7 L1939.6 1170.0 L1941.4 1169.2 L1943.2 1171.1 L1945.0 1170.4 L1946.8 1169.8 L1948.6 1169.9 L1950.4 1169.5 L1952.2 1171.1 L1954.0 1169.3 L1955.8 1170.2 L1957.6 1169.4 L1959.4 1171.3 L1961.2 1169.5 L1963.0 1170.0 L1964.8 1170.6 L1966.6 1171.0 L1968.4 1170.8 L1970.2 1170.9 L1972.0 1170.9 L1973.8 1171.2 L1975.6 1175.0 L1977.4 1170.5 L1979.2 1171.3 L1981.0 1170.1 L1982.8 1171.1 L1984.6 1170.0 L1986.4 1170.2 L1988.2 1169.8 L1990.0 1170.4 L1991.8 1169.9 L1993.6 1171.1 L1995.4 1170.2 L1997.2 1169.9 L1999.0 1170.5 L2000.8 1169.4 L2002.6 1169.9 L2004.4 1171.0 L2006.2 1169.6 L2008.0 1173.3 L2009.8 1170.4 L2011.6 1171.2 L2013.4 1170.4 L2015.2 1170.3 L2017.0 1170.7 L2018.8 1170.0 L2020.6 1170.0 L2022.4 1170.7 L2024.2 1169.4 L2026.0 1170.1 L2027.8 1170.5 L2029.6 1171.3 L2031.4 1170.2 L2033.2 1171.4 L2035.0 1170.4 L2036.8 1169.6 L2038.6 1171.4 L2040.4 1170.3 L2042.2 1171.2 L2044.0 1171.0 L2045.8 1171.2 L2047.6 1169.5 L2049.4 1170.3 L2051.2 1169.6 L2053.0 1170.6 L2054.8 1170.0 L2056.6 1170.6 L2058.4 1170.1 L2060.2 1169.9 L2062.0 1169.2 L2063.8 1171.1 L2065.6 1170.7 L2067.4 1170.3 L2069.2 1169.8 L2071.0 1170.4 L2072.8 1170.5 L2074.6 1169.5 L2076.4 1170.9 L2078.2 1169.4 L2080.0 1170.3 L2081.8 1170.5 L2083.6 1173.2 L2085.4 1169.9 L2087.2 1170.0 L2089.0 1169.8 L2090.8 1171.2 L2092.6 1170.0 L2094.4 1170.0 L2096.2 1171.2 L2098.0 1171.3 L2099.8 1170.6 L2101.6 1169.3 L2103.4 1171.1 L2105.2 1171.2 L2107.0 1169.9 L2108.8 1171.3 L2110.6 1171.3 L2112.4 1170.1 L2114.2 1169.7 L2116.0 1171.1 L2117.8 1170.9 L2119.6 1169.6 L2121.4 1169.6 L2123.2 1169.8 L2125.0 1169.5 L2126.8 1170.0 L2128.6 1169.3 L2130.4 1171.0 L2132.2 1169.7 L2134.0 1169.8 L2135.8 1169.3 L2137.6 1170.0 L2139.4 1170.8 L2141.2 1169.8 L2143.0 1169.5 L2144.8 1171.0 L2146.6 1169.6 L2148.4 1170.8 L2150.2 1171.3 L2152.0 1171.3 L2153.8 1169.7 L2155.6 1169.5 L2157.4 1169.8 L2159.2 1170.5 L2161.0 1169.7 L2162.8 1169.7 L2164.6 1169.5 L2166.4 1170.4 L2168.2 1170.9 L2170.0 1170.6 L2171.8 1169.9 L2173.6 1169.4 L2175.4 1171.1 L2177.2 1170.7 L2179.0 1170.4 L2180.8 1170.3 L2182.6 1169.3 L2184.4 1169.7 L2186.2 1170.8 L2188.0 1170.1 L2189.8 1170.9 L2191.6 1171.1 L2193.4 1169.8 L2195.2 1170.7 L2197.0 1170.0 L2198.8 1170.6 L2200.6 1169.7 L2202.4 1170.0 L2204.2 1169.6 L2206.0 1171.2 L2207.8 1170.8 L2209.6 1169.3 L2211.4 1169.6 L2213.2 1170.0 L2215.0 1169.9 L2216.8 1169.6 L2218.6 1170.5 L2220.4 1169.8 L2222.2 1170.7 L2224.0 1169.2 L2225.8 1170.9 L2227.6 1169.3 L2229.4 1170.5 L2231.2 1169.7 L2233.0 1170.9 L2234.8 1171.2 L2236.6 1169.4 L2238.4 1170.1 L2240.2 1171.0 L2242.0 1169.4 L2243.8 1170.1 L2245.6 1170.7 L2247.4 1171.0 L2249.2 1170.2 L2251.0 1170.7 L2252.8 1170.3 L2254.6 1169.5 L2256.4 1169.3 L2258.2 1171.0 L2260.0 1170.4 L2261.8 1170.6 L2263.6 1169.7 L2265.4 1170.0 L2267.2 1169.6 L2269.0 1169.5 L2270.8 1170.7 L2272.6 1169.7 L2274.4 1170.2 L2276.2 1170.0 L2278.0 1171.1 L2279.8 1170.4 L2281.6 1171.0 L2283.4 1170.9 L2285.2 1170.7 L2287.0 1170.2 L2288.8 1171.0 L2290.6 1169.8 L2292.4 1169.7 L2294.2 1169.8 L2296.0 1170.7 L2297.8 1169.4 L2299.6 1170.2 L2301.4 1169.6 L2303.2 1169.2 L2305.0 1170.9 L2306.8 1170.8 L2308.6 1170.4 L2310.4 1170.3 L2312.2 1169.6 L2314.0 1169.2 L2315.8 1170.6 L2317.6 1171.3 L2319.4 1169.8 L2321.2 1169.5 L2323.0 1170.9 L2324.8 1169.9 L2326.6 1170.6 L2328.4 1171.2 L2330.2 1170.9 L2332.0 1170.8" fill="none" stroke="#c936c2" stroke-width="7.0" stroke-linejoin="round"/>
<path d="M318.0 1170.2 L318.0 1190.8 M736.8 1170.2 L736.8 1212.0 M826.0 1170.2 L826.0 1192.8 M1122.0 1170.2 L1122.0 1192.0 M1385.2 1170.2 L1385.2 1194.0 M1398.8 1170.2 L1398.8 1190.0 M1832.0 1170.2 L1832.0 1188.8 M2196.0 1170.2 L2196.0 1188.0 M2220.8 1170.2 L2220.8 1190.4 " fill="none" stroke="#c936c2" stroke-width="3.6"/>
<circle cx="318.0" cy="1190.8" r="2.8" fill="#c936c2"/>
<circle cx="736.8" cy="1212" r="2.8" fill="#c936c2"/>
<circle cx="826.0" cy="1192.8" r="2.8" fill="#c936c2"/>
<circle cx="1122.0" cy="1192" r="2.8" fill="#c936c2"/>
<circle cx="1385.2" cy="1194.0" r="2.8" fill="#c936c2"/>
<circle cx="1398.8" cy="1190.0" r="2.8" fill="#c936c2"/>
<circle cx="1832" cy="1188.8" r="2.8" fill="#c936c2"/>
<circle cx="2196" cy="1188" r="2.8" fill="#c936c2"/>
<circle cx="2220.8" cy="1190.4" r="2.8" fill="#c936c2"/>
<path d="M2333.2 1170.2 L2333.2 1178.0" stroke="#c936c2" stroke-width="4.8"/>
</svg>
<span class="t" style="left:272.00px;top:340.00px;height:40.00px;line-height:40.00px;font-size:28.00px;color:rgba(60,60,90,.11);transform:rotate(-21deg);transform-origin:50% 50%;font-family:'Liberation Sans','Noto Sans CJK SC',sans-serif;">PerfDog</span>
<span class="t" style="left:884.00px;top:340.00px;height:40.00px;line-height:40.00px;font-size:28.00px;color:rgba(60,60,90,.11);transform:rotate(-21deg);transform-origin:50% 50%;font-family:'Liberation Sans','Noto Sans CJK SC',sans-serif;">PerfDog</span>
<span class="t" style="left:1496.00px;top:340.00px;height:40.00px;line-height:40.00px;font-size:28.00px;color:rgba(60,60,90,.11);transform:rotate(-21deg);transform-origin:50% 50%;font-family:'Liberation Sans','Noto Sans CJK SC',sans-serif;">PerfDog</span>
<span class="t" style="left:2108.00px;top:340.00px;height:40.00px;line-height:40.00px;font-size:28.00px;color:rgba(60,60,90,.11);transform:rotate(-21deg);transform-origin:50% 50%;font-family:'Liberation Sans','Noto Sans CJK SC',sans-serif;">PerfDog</span>
<span class="t" style="left:272.00px;top:870.00px;height:40.00px;line-height:40.00px;font-size:28.00px;color:rgba(60,60,90,.11);transform:rotate(-21deg);transform-origin:50% 50%;font-family:'Liberation Sans','Noto Sans CJK SC',sans-serif;">PerfDog</span>
<span class="t" style="left:884.00px;top:870.00px;height:40.00px;line-height:40.00px;font-size:28.00px;color:rgba(60,60,90,.11);transform:rotate(-21deg);transform-origin:50% 50%;font-family:'Liberation Sans','Noto Sans CJK SC',sans-serif;">PerfDog</span>
<span class="t" style="left:1496.00px;top:870.00px;height:40.00px;line-height:40.00px;font-size:28.00px;color:rgba(60,60,90,.11);transform:rotate(-21deg);transform-origin:50% 50%;font-family:'Liberation Sans','Noto Sans CJK SC',sans-serif;">PerfDog</span>
<span class="t" style="left:2108.00px;top:870.00px;height:40.00px;line-height:40.00px;font-size:28.00px;color:rgba(60,60,90,.11);transform:rotate(-21deg);transform-origin:50% 50%;font-family:'Liberation Sans','Noto Sans CJK SC',sans-serif;">PerfDog</span>
<span class="t" style="left:272.00px;top:1406.00px;height:40.00px;line-height:40.00px;font-size:28.00px;color:rgba(60,60,90,.11);transform:rotate(-21deg);transform-origin:50% 50%;font-family:'Liberation Sans','Noto Sans CJK SC',sans-serif;">PerfDog</span>
<span class="t" style="left:884.00px;top:1406.00px;height:40.00px;line-height:40.00px;font-size:28.00px;color:rgba(60,60,90,.11);transform:rotate(-21deg);transform-origin:50% 50%;font-family:'Liberation Sans','Noto Sans CJK SC',sans-serif;">PerfDog</span>
<span class="t" style="left:1496.00px;top:1406.00px;height:40.00px;line-height:40.00px;font-size:28.00px;color:rgba(60,60,90,.11);transform:rotate(-21deg);transform-origin:50% 50%;font-family:'Liberation Sans','Noto Sans CJK SC',sans-serif;">PerfDog</span>
<span class="t" style="left:2108.00px;top:1406.00px;height:40.00px;line-height:40.00px;font-size:28.00px;color:rgba(60,60,90,.11);transform:rotate(-21deg);transform-origin:50% 50%;font-family:'Liberation Sans','Noto Sans CJK SC',sans-serif;">PerfDog</span>
<span class="t" id="t0" style="top:42.72px;height:50.56px;line-height:50.56px;font-size:31.60px;font-weight:900;color:#fff;font-family:'Liberation Sans','Noto Serif CJK SC',serif;left:185.20px;transform-origin:0 50%;transform:scaleX(0.9621);">英雄联盟手游</span>
<span class="t" id="t1" style="top:96.08px;height:39.04px;line-height:39.04px;font-size:24.40px;font-weight:400;color:rgba(255,255,255,.94);font-family:'Liberation Sans','Noto Sans CJK SC',sans-serif;left:214.80px;transform-origin:0 50%;transform:scaleX(0.9391);">Android<i class="c">版本名</i>: 6.3.0.9009</span>
<span class="t" id="t2" style="top:124.88px;height:39.04px;line-height:39.04px;font-size:24.40px;font-weight:400;color:rgba(255,255,255,.94);font-family:'Liberation Sans','Noto Sans CJK SC',sans-serif;left:214.80px;transform-origin:0 50%;transform:scaleX(0.9636);">Android<i class="c">版本号</i>: 900964</span>
<span class="t" id="t3" style="top:159.28px;height:39.04px;line-height:39.04px;font-size:24.40px;font-weight:400;color:rgba(255,255,255,.94);font-family:'Liberation Sans','Noto Sans CJK SC',sans-serif;left:184.00px;transform-origin:0 50%;transform:scaleX(0.9565);">com.tencent.lolm</span>
<span class="t" id="t4" style="top:250.00px;height:38.40px;line-height:38.40px;font-size:24.00px;font-weight:900;color:#fff;font-family:'Liberation Sans','Noto Serif CJK SC',serif;left:44.80px;transform-origin:0 50%;transform:scaleX(0.8429);">备注:</span>
<span class="t" id="t5" style="top:250.00px;height:38.40px;line-height:38.40px;font-size:24.00px;font-weight:400;color:rgba(255,255,255,.5);font-family:'Liberation Sans','Noto Sans CJK SC',sans-serif;left:104.80px;transform-origin:0 50%;transform:scaleX(1.0112);"><i class="c">添加备注，不超过</i>200<i class="c">个字符</i></span>
<span class="t" id="t6" style="top:47.56px;height:52.48px;line-height:52.48px;font-size:32.80px;font-weight:700;color:#fff;font-family:'Liberation Sans','Noto Sans CJK SC',sans-serif;left:804.80px;transform-origin:0 50%;transform:scaleX(0.9500);">PLQ110</span>
<span class="t" id="t7" style="top:104.48px;height:39.04px;line-height:39.04px;font-size:24.40px;font-weight:400;color:rgba(255,255,255,.94);font-family:'Liberation Sans','Noto Sans CJK SC',sans-serif;left:804.80px;transform-origin:0 50%;transform:scaleX(0.9238);">Memory: 14.8G</span>
<span class="t" id="t8" style="top:145.28px;height:39.04px;line-height:39.04px;font-size:24.40px;font-weight:400;color:rgba(255,255,255,.94);font-family:'Liberation Sans','Noto Sans CJK SC',sans-serif;left:804.80px;transform-origin:0 50%;transform:scaleX(0.8577);">CPU: sun</span>
<span class="t" id="t9" style="top:184.88px;height:39.04px;line-height:39.04px;font-size:24.40px;font-weight:400;color:rgba(255,255,255,.94);font-family:'Liberation Sans','Noto Sans CJK SC',sans-serif;left:804.80px;transform-origin:0 50%;transform:scaleX(0.9251);">GPU: Qualcomm Adreno (TM) 830</span>
<span class="t" id="t10" style="top:65.68px;height:48.64px;line-height:48.64px;font-size:30.40px;font-weight:900;color:#fff;font-family:'Liberation Sans','Noto Serif CJK SC',serif;left:1382.00px;transform-origin:0 50%;transform:scaleX(0.9890);">创建者</span>
<span class="t" id="t11" style="top:124.48px;height:39.04px;line-height:39.04px;font-size:24.40px;font-weight:400;color:rgba(255,255,255,.94);font-family:'Liberation Sans','Noto Sans CJK SC',sans-serif;left:1382.00px;transform-origin:0 50%;transform:scaleX(1.0075);">130****9152</span>
<span class="t" id="t12" style="top:65.68px;height:48.64px;line-height:48.64px;font-size:30.40px;font-weight:900;color:#fff;font-family:'Liberation Sans','Noto Serif CJK SC',serif;left:1744.00px;transform-origin:0 50%;transform:scaleX(1.0164);">时长</span>
<span class="t" id="t13" style="top:124.48px;height:39.04px;line-height:39.04px;font-size:24.40px;font-weight:400;color:rgba(255,255,255,.94);font-family:'Liberation Sans','Noto Sans CJK SC',sans-serif;left:1744.00px;transform-origin:0 50%;transform:scaleX(0.9921);">0h 19m 24s</span>
<span class="t" id="t14" style="top:65.68px;height:48.64px;line-height:48.64px;font-size:30.40px;font-weight:900;color:#fff;font-family:'Liberation Sans','Noto Serif CJK SC',serif;left:2100.00px;transform-origin:0 50%;transform:scaleX(0.9836);">上传时间</span>
<span class="t" id="t15" style="top:124.48px;height:39.04px;line-height:39.04px;font-size:24.40px;font-weight:400;color:rgba(255,255,255,.94);font-family:'Liberation Sans','Noto Sans CJK SC',sans-serif;left:2100.00px;transform-origin:0 50%;transform:scaleX(0.9946);">23/10/2025 15:43:49</span>
<span class="t" id="t16" style="top:14.24px;height:37.12px;line-height:37.12px;font-size:23.20px;font-weight:400;color:rgba(255,255,255,.85);font-family:'Liberation Sans','Noto Sans CJK SC',sans-serif;left:2012.00px;transform-origin:0 50%;transform:scaleX(0.9973);"><i class="c">数据由</i>PerfDog(11.3.250720)<i class="c">版本收集</i></span>
<span class="t" id="t17" style="top:334.96px;height:39.68px;line-height:39.68px;font-size:24.80px;font-weight:400;color:#3a3a3a;font-family:'Liberation Sans','Noto Sans CJK SC',sans-serif;left:24.00px;transform-origin:0 50%;transform:scaleX(0.9920);">概览</span>
<span class="t" id="t18" style="top:334.00px;height:41.60px;line-height:41.60px;font-size:26.00px;font-weight:400;color:#3a3a3a;font-family:'Liberation Sans','Noto Sans CJK SC',sans-serif;left:238.00px;transform-origin:0 50%;transform:scaleX(0.9091);">CPU</span>
<span class="t" id="t19" style="top:334.00px;height:41.60px;line-height:41.60px;font-size:26.00px;font-weight:400;color:#3a3a3a;font-family:'Liberation Sans','Noto Sans CJK SC',sans-serif;left:348.00px;transform-origin:0 50%;transform:scaleX(1.0638);">Memory</span>
<span class="t" id="t20" style="top:334.00px;height:41.60px;line-height:41.60px;font-size:26.00px;font-weight:400;color:#3a3a3a;font-family:'Liberation Sans','Noto Sans CJK SC',sans-serif;left:506.00px;transform-origin:0 50%;transform:scaleX(0.9643);">GPU</span>
<span class="t" id="t21" style="top:334.00px;height:41.60px;line-height:41.60px;font-size:26.00px;font-weight:400;color:#3a3a3a;font-family:'Liberation Sans','Noto Sans CJK SC',sans-serif;left:618.00px;transform-origin:0 50%;transform:scaleX(1.0274);">Temperature</span>
<span class="t" id="t22" style="top:334.00px;height:41.60px;line-height:41.60px;font-size:26.00px;font-weight:400;color:#3a3a3a;font-family:'Liberation Sans','Noto Sans CJK SC',sans-serif;left:826.80px;transform-origin:0 50%;transform:scaleX(0.9909);">Thermal Status</span>
<span class="t" id="t23" style="top:334.00px;height:41.60px;line-height:41.60px;font-size:26.00px;font-weight:400;color:#3a3a3a;font-family:'Liberation Sans','Noto Sans CJK SC',sans-serif;left:1060.00px;transform-origin:0 50%;transform:scaleX(1.0737);">Network</span>
<span class="t" id="t24" style="top:334.00px;height:41.60px;line-height:41.60px;font-size:26.00px;font-weight:400;color:#3a3a3a;font-family:'Liberation Sans','Noto Sans CJK SC',sans-serif;left:1221.20px;transform-origin:0 50%;transform:scaleX(0.9984);">Brightness</span>
<span class="t" id="t25" style="top:334.00px;height:41.60px;line-height:41.60px;font-size:26.00px;font-weight:400;color:#3a3a3a;font-family:'Liberation Sans','Noto Sans CJK SC',sans-serif;left:1404.00px;transform-origin:0 50%;transform:scaleX(1.0244);">Battery</span>
<span class="t" id="t26" style="top:332.72px;height:44.16px;line-height:44.16px;font-size:27.60px;font-weight:700;color:#3d5afe;font-family:'Liberation Sans','Noto Sans CJK SC',sans-serif;left:134.00px;transform-origin:0 50%;transform:scaleX(0.8222);">FPS</span>
<span class="t" id="t27" style="top:417.20px;height:57.60px;line-height:57.60px;font-size:36.00px;font-weight:700;color:#222;font-family:'Liberation Sans','Noto Sans CJK SC',sans-serif;left:58.00px;transform-origin:0 50%;transform:scaleX(0.7714);">FPS</span>
<span class="t" id="t28" style="top:549.28px;height:39.04px;line-height:39.04px;font-size:24.40px;font-weight:400;color:#5a5a5a;font-family:'Liberation Sans','Noto Sans CJK SC',sans-serif;left:88.00px;transform-origin:0 50%;transform:scaleX(0.8571);">Avg(FPS)</span>
<span class="t" id="t29" style="top:597.84px;height:62.72px;line-height:62.72px;font-size:39.20px;font-weight:700;color:#222;font-family:'Liberation Sans','Noto Sans CJK SC',sans-serif;left:82.00px;transform-origin:0 50%;transform:scaleX(1.0204);">165.5</span>
<span class="t" id="t30" style="top:549.28px;height:39.04px;line-height:39.04px;font-size:24.40px;font-weight:400;color:#5a5a5a;font-family:'Liberation Sans','Noto Sans CJK SC',sans-serif;left:228.00px;transform-origin:0 50%;transform:scaleX(0.9674);">Smooth(<i class="c">稳帧指数</i>)</span>
<span class="t" id="t31" style="top:597.84px;height:62.72px;line-height:62.72px;font-size:39.20px;font-weight:700;color:#222;font-family:'Liberation Sans','Noto Sans CJK SC',sans-serif;left:302.00px;transform-origin:0 50%;transform:scaleX(1.0000);">0.1</span>
<span class="t" id="t32" style="top:549.28px;height:39.04px;line-height:39.04px;font-size:24.40px;font-weight:400;color:#5a5a5a;font-family:'Liberation Sans','Noto Sans CJK SC',sans-serif;left:481.20px;transform-origin:0 50%;transform:scaleX(0.8444);">1%Low(FPS)</span>
<span class="t" id="t33" style="top:597.84px;height:62.72px;line-height:62.72px;font-size:39.20px;font-weight:700;color:#222;font-family:'Liberation Sans','Noto Sans CJK SC',sans-serif;left:493.20px;transform-origin:0 50%;transform:scaleX(0.9959);">143.8</span>
<span class="t" id="t34" style="top:549.28px;height:39.04px;line-height:39.04px;font-size:24.40px;font-weight:400;color:#5a5a5a;font-family:'Liberation Sans','Noto Sans CJK SC',sans-serif;left:648.00px;transform-origin:0 50%;transform:scaleX(0.8280);">Std(FPS)</span>
<span class="t" id="t35" style="top:597.84px;height:62.72px;line-height:62.72px;font-size:39.20px;font-weight:700;color:#222;font-family:'Liberation Sans','Noto Sans CJK SC',sans-serif;left:661.20px;transform-origin:0 50%;transform:scaleX(1.0370);">1.3</span>
<span class="t" id="t36" style="top:549.28px;height:39.04px;line-height:39.04px;font-size:24.40px;font-weight:400;color:#5a5a5a;font-family:'Liberation Sans','Noto Sans CJK SC',sans-serif;left:777.20px;transform-origin:0 50%;transform:scaleX(0.8400);">Var(FPS)</span>
<span class="t" id="t37" style="top:597.84px;height:62.72px;line-height:62.72px;font-size:39.20px;font-weight:700;color:#222;font-family:'Liberation Sans','Noto Sans CJK SC',sans-serif;left:792.00px;transform-origin:0 50%;transform:scaleX(1.0370);">1.8</span>
<span class="t" id="t38" style="top:549.28px;height:39.04px;line-height:39.04px;font-size:24.40px;font-weight:400;color:#5a5a5a;font-family:'Liberation Sans','Noto Sans CJK SC',sans-serif;left:906.80px;transform-origin:0 50%;transform:scaleX(0.9186);">FPS>=18 [%]</span>
<span class="t" id="t39" style="top:597.84px;height:62.72px;line-height:62.72px;font-size:39.20px;font-weight:700;color:#222;font-family:'Liberation Sans','Noto Sans CJK SC',sans-serif;left:942.80px;transform-origin:0 50%;transform:scaleX(0.9846);">100</span>
<span class="t" id="t40" style="top:549.28px;height:39.04px;line-height:39.04px;font-size:24.40px;font-weight:400;color:#5a5a5a;font-family:'Liberation Sans','Noto Sans CJK SC',sans-serif;left:1085.20px;transform-origin:0 50%;transform:scaleX(0.9103);">FPS>=25 [%]</span>
<span class="t" id="t41" style="top:597.84px;height:62.72px;line-height:62.72px;font-size:39.20px;font-weight:700;color:#222;font-family:'Liberation Sans','Noto Sans CJK SC',sans-serif;left:1120.00px;transform-origin:0 50%;transform:scaleX(0.9846);">100</span>
<span class="t" id="t42" style="top:549.28px;height:39.04px;line-height:39.04px;font-size:24.40px;font-weight:400;color:#5a5a5a;font-family:'Liberation Sans','Noto Sans CJK SC',sans-serif;left:1264.00px;transform-origin:0 50%;transform:scaleX(0.8866);">Drop(FPS) [/h]</span>
<span class="t" id="t43" style="top:597.84px;height:62.72px;line-height:62.72px;font-size:39.20px;font-weight:700;color:#222;font-family:'Liberation Sans','Noto Sans CJK SC',sans-serif;left:1312.00px;transform-origin:0 50%;transform:scaleX(0.9842);">27.8</span>
<span class="t" id="t44" style="top:549.28px;height:39.04px;line-height:39.04px;font-size:24.40px;font-weight:400;color:#5a5a5a;font-family:'Liberation Sans','Noto Sans CJK SC',sans-serif;left:1488.00px;transform-origin:0 50%;transform:scaleX(0.8544);">Min(FPS)</span>
<span class="t" id="t45" style="top:597.84px;height:62.72px;line-height:62.72px;font-size:39.20px;font-weight:700;color:#222;font-family:'Liberation Sans','Noto Sans CJK SC',sans-serif;left:1481.20px;transform-origin:0 50%;transform:scaleX(0.9796);">145.1</span>
<span class="t" id="t46" style="top:549.28px;height:39.04px;line-height:39.04px;font-size:24.40px;font-weight:400;color:#5a5a5a;font-family:'Liberation Sans','Noto Sans CJK SC',sans-serif;left:1628.00px;transform-origin:0 50%;transform:scaleX(0.8889);">Median(FPS)</span>
<span class="t" id="t47" style="top:597.84px;height:62.72px;line-height:62.72px;font-size:39.20px;font-weight:700;color:#222;font-family:'Liberation Sans','Noto Sans CJK SC',sans-serif;left:1644.00px;transform-origin:0 50%;transform:scaleX(0.9796);">165.9</span>
<span class="t" id="t48" style="top:549.28px;height:39.04px;line-height:39.04px;font-size:24.40px;font-weight:400;color:#5a5a5a;font-family:'Liberation Sans','Noto Sans CJK SC',sans-serif;left:1801.20px;transform-origin:0 50%;transform:scaleX(0.8936);">MedRange(FPS)[%]</span>
<span class="t" id="t49" style="top:597.84px;height:62.72px;line-height:62.72px;font-size:39.20px;font-weight:700;color:#222;font-family:'Liberation Sans','Noto Sans CJK SC',sans-serif;left:1866.80px;transform-origin:0 50%;transform:scaleX(0.9600);">100</span>
<span class="t" id="t50" style="top:520.48px;height:39.04px;line-height:39.04px;font-size:24.40px;font-weight:400;color:#5a5a5a;font-family:'Liberation Sans','Noto Sans CJK SC',sans-serif;left:2040.00px;transform-origin:0 50%;transform:scaleX(0.9541);">TinyJank(<i class="c">极微小卡顿</i>)</span>
<span class="t" id="t51" style="top:549.68px;height:39.04px;line-height:39.04px;font-size:24.40px;font-weight:400;color:#5a5a5a;font-family:'Liberation Sans','Noto Sans CJK SC',sans-serif;left:2102.00px;transform-origin:0 50%;transform:scaleX(0.9438);">(/10min)</span>
<span class="t" id="t52" style="top:597.84px;height:62.72px;line-height:62.72px;font-size:39.20px;font-weight:700;color:#222;font-family:'Liberation Sans','Noto Sans CJK SC',sans-serif;left:2151.20px;transform-origin:0 50%;transform:scaleX(0.9231);">-</span>
<span class="t" id="t53" style="top:692.48px;height:39.04px;line-height:39.04px;font-size:24.40px;font-weight:400;color:#5a5a5a;font-family:'Liberation Sans','Noto Sans CJK SC',sans-serif;left:82.80px;transform-origin:0 50%;transform:scaleX(0.9315);">SmallJank(<i class="c">微小卡顿</i>)</span>
<span class="t" id="t54" style="top:721.28px;height:39.04px;line-height:39.04px;font-size:24.40px;font-weight:400;color:#5a5a5a;font-family:'Liberation Sans','Noto Sans CJK SC',sans-serif;left:138.80px;transform-origin:0 50%;transform:scaleX(0.9393);">(/10min)</span>
<span class="t" id="t55" style="top:770.64px;height:62.72px;line-height:62.72px;font-size:39.20px;font-weight:700;color:#222;font-family:'Liberation Sans','Noto Sans CJK SC',sans-serif;left:166.80px;transform-origin:0 50%;transform:scaleX(1.0148);">4.6</span>
<span class="t" id="t56" style="top:692.48px;height:39.04px;line-height:39.04px;font-size:24.40px;font-weight:400;color:#5a5a5a;font-family:'Liberation Sans','Noto Sans CJK SC',sans-serif;left:354.00px;transform-origin:0 50%;transform:scaleX(0.9455);">Jank(<i class="c">卡顿</i>)</span>
<span class="t" id="t57" style="top:721.28px;height:39.04px;line-height:39.04px;font-size:24.40px;font-weight:400;color:#5a5a5a;font-family:'Liberation Sans','Noto Sans CJK SC',sans-serif;left:358.80px;transform-origin:0 50%;transform:scaleX(0.9393);">(/10min)</span>
<span class="t" id="t58" style="top:770.64px;height:62.72px;line-height:62.72px;font-size:39.20px;font-weight:700;color:#222;font-family:'Liberation Sans','Noto Sans CJK SC',sans-serif;left:406.00px;transform-origin:0 50%;transform:scaleX(0.9091);">1</span>
<span class="t" id="t59" style="top:692.48px;height:39.04px;line-height:39.04px;font-size:24.40px;font-weight:400;color:#5a5a5a;font-family:'Liberation Sans','Noto Sans CJK SC',sans-serif;left:529.20px;transform-origin:0 50%;transform:scaleX(0.9283);">BigJank(<i class="c">严重卡顿</i>)</span>
<span class="t" id="t60" style="top:721.28px;height:39.04px;line-height:39.04px;font-size:24.40px;font-weight:400;color:#5a5a5a;font-family:'Liberation Sans','Noto Sans CJK SC',sans-serif;left:571.60px;transform-origin:0 50%;transform:scaleX(0.9393);">(/10min)</span>
<span class="t" id="t61" style="top:770.64px;height:62.72px;line-height:62.72px;font-size:39.20px;font-weight:700;color:#222;font-family:'Liberation Sans','Noto Sans CJK SC',sans-serif;left:617.20px;transform-origin:0 50%;transform:scaleX(0.9818);">0</span>
<span class="t" id="t62" style="top:721.28px;height:39.04px;line-height:39.04px;font-size:24.40px;font-weight:400;color:#5a5a5a;font-family:'Liberation Sans','Noto Sans CJK SC',sans-serif;left:777.20px;transform-origin:0 50%;transform:scaleX(0.9617);">Stutter(<i class="c">卡顿率</i>) [%]</span>
<span class="t" id="t63" style="top:770.64px;height:62.72px;line-height:62.72px;font-size:39.20px;font-weight:700;color:#222;font-family:'Liberation Sans','Noto Sans CJK SC',sans-serif;left:858.40px;transform-origin:0 50%;transform:scaleX(0.9818);">0</span>
<span class="t" id="t64" style="top:721.28px;height:39.04px;line-height:39.04px;font-size:24.40px;font-weight:400;color:#5a5a5a;font-family:'Liberation Sans','Noto Sans CJK SC',sans-serif;left:1009.20px;transform-origin:0 50%;transform:scaleX(0.9198);">Avg(InterFrame)</span>
<span class="t" id="t65" style="top:770.64px;height:62.72px;line-height:62.72px;font-size:39.20px;font-weight:700;color:#222;font-family:'Liberation Sans','Noto Sans CJK SC',sans-serif;left:1080.00px;transform-origin:0 50%;transform:scaleX(0.9818);">0</span>
<span class="t" id="t66" style="top:721.28px;height:39.04px;line-height:39.04px;font-size:24.40px;font-weight:400;color:#5a5a5a;font-family:'Liberation Sans','Noto Sans CJK SC',sans-serif;left:1218.80px;transform-origin:0 50%;transform:scaleX(0.9038);">Avg(FPS+InterFrame)</span>
<span class="t" id="t67" style="top:770.64px;height:62.72px;line-height:62.72px;font-size:39.20px;font-weight:700;color:#222;font-family:'Liberation Sans','Noto Sans CJK SC',sans-serif;left:1277.20px;transform-origin:0 50%;transform:scaleX(1.0082);">165.5</span>
<span class="t" id="t68" style="top:721.28px;height:39.04px;line-height:39.04px;font-size:24.40px;font-weight:400;color:#5a5a5a;font-family:'Liberation Sans','Noto Sans CJK SC',sans-serif;left:1480.00px;transform-origin:0 50%;transform:scaleX(0.9229);">Avg(FTime) [ms]</span>
<span class="t" id="t69" style="top:770.64px;height:62.72px;line-height:62.72px;font-size:39.20px;font-weight:700;color:#222;font-family:'Liberation Sans','Noto Sans CJK SC',sans-serif;left:1550.40px;transform-origin:0 50%;transform:scaleX(0.9818);">6</span>
<span class="t" id="t70" style="top:721.28px;height:39.04px;line-height:39.04px;font-size:24.40px;font-weight:400;color:#5a5a5a;font-family:'Liberation Sans','Noto Sans CJK SC',sans-serif;left:1690.80px;transform-origin:0 50%;transform:scaleX(0.9025);">Std(FTime)</span>
<span class="t" id="t71" style="top:770.64px;height:62.72px;line-height:62.72px;font-size:39.20px;font-weight:700;color:#222;font-family:'Liberation Sans','Noto Sans CJK SC',sans-serif;left:1717.20px;transform-origin:0 50%;transform:scaleX(1.0148);">0.6</span>
<span class="t" id="t72" style="top:721.28px;height:39.04px;line-height:39.04px;font-size:24.40px;font-weight:400;color:#5a5a5a;font-family:'Liberation Sans','Noto Sans CJK SC',sans-serif;left:1844.00px;transform-origin:0 50%;transform:scaleX(0.8926);">Var(FTime)</span>
<span class="t" id="t73" style="top:770.64px;height:62.72px;line-height:62.72px;font-size:39.20px;font-weight:700;color:#222;font-family:'Liberation Sans','Noto Sans CJK SC',sans-serif;left:1870.80px;transform-origin:0 50%;transform:scaleX(1.0074);">0.3</span>
<span class="t" id="t74" style="top:721.28px;height:39.04px;line-height:39.04px;font-size:24.40px;font-weight:400;color:#5a5a5a;font-family:'Liberation Sans','Noto Sans CJK SC',sans-serif;left:1997.20px;transform-origin:0 50%;transform:scaleX(0.9434);">FTime>=100ms [%]</span>
<span class="t" id="t75" style="top:770.64px;height:62.72px;line-height:62.72px;font-size:39.20px;font-weight:700;color:#222;font-family:'Liberation Sans','Noto Sans CJK SC',sans-serif;left:2086.40px;transform-origin:0 50%;transform:scaleX(0.9818);">0</span>
<span class="t" id="t76" style="top:860.48px;height:39.04px;line-height:39.04px;font-size:24.40px;font-weight:400;color:#5a5a5a;font-family:'Liberation Sans','Noto Sans CJK SC',sans-serif;left:82.00px;transform-origin:0 50%;transform:scaleX(0.9348);">Delta(FTime)>100ms [/h]</span>
<span class="t" id="t77" style="top:911.44px;height:62.72px;line-height:62.72px;font-size:39.20px;font-weight:700;color:#222;font-family:'Liberation Sans','Noto Sans CJK SC',sans-serif;left:195.20px;transform-origin:0 50%;transform:scaleX(0.9556);">3.1</span>
<span class="t" id="t78" style="top:1002.32px;height:40.96px;line-height:40.96px;font-size:25.60px;font-weight:700;color:#222;font-family:'Liberation Sans','Noto Sans CJK SC',sans-serif;left:56.00px;transform-origin:0 50%;transform:scaleX(0.8800);">FPS</span>
<span class="t" id="t79" style="top:1001.44px;height:37.12px;line-height:37.12px;font-size:23.20px;font-weight:400;color:#444;font-family:'Liberation Sans','Noto Sans CJK SC',sans-serif;left:1954.80px;transform-origin:0 50%;transform:scaleX(0.9682);">FPS(>=)</span>
<span class="t" id="t80" style="top:1001.12px;height:37.76px;line-height:37.76px;font-size:23.60px;font-weight:400;color:#333;font-family:'Liberation Sans','Noto Sans CJK SC',sans-serif;left:2089.20px;transform-origin:0 50%;transform:scaleX(0.9846);">18</span>
<span class="t" id="t81" style="top:1001.12px;height:37.76px;line-height:37.76px;font-size:23.60px;font-weight:400;color:#333;font-family:'Liberation Sans','Noto Sans CJK SC',sans-serif;left:2201.20px;transform-origin:0 50%;transform:scaleX(0.9846);">25</span>
<span class="t" id="t82" style="top:1002.40px;height:35.20px;line-height:35.20px;font-size:22.00px;font-weight:500;color:#3d5afe;font-family:'Liberation Sans','Noto Sans CJK SC',sans-serif;text-decoration:underline;left:2294.40px;transform-origin:0 50%;transform:scaleX(0.9273);">重置</span>
<span class="t" id="t83" style="top:1062.88px;height:35.84px;line-height:35.84px;font-size:22.40px;font-weight:400;color:#fff;font-family:'Liberation Sans','Noto Sans CJK SC',sans-serif;left:1196.00px;transform-origin:0 50%;transform:scaleX(0.9467);">label1</span>
<span class="t" id="t84" style="top:1118.72px;height:34.56px;line-height:34.56px;font-size:21.60px;font-weight:400;color:#666;font-family:'Liberation Sans','Noto Sans CJK SC',sans-serif;right:2300.00px;">182</span>
<span class="t" id="t85" style="top:1151.70px;height:34.56px;line-height:34.56px;font-size:21.60px;font-weight:400;color:#666;font-family:'Liberation Sans','Noto Sans CJK SC',sans-serif;right:2300.00px;">166</span>
<span class="t" id="t86" style="top:1184.68px;height:34.56px;line-height:34.56px;font-size:21.60px;font-weight:400;color:#666;font-family:'Liberation Sans','Noto Sans CJK SC',sans-serif;right:2300.00px;">149</span>
<span class="t" id="t87" style="top:1217.66px;height:34.56px;line-height:34.56px;font-size:21.60px;font-weight:400;color:#666;font-family:'Liberation Sans','Noto Sans CJK SC',sans-serif;right:2300.00px;">132</span>
<span class="t" id="t88" style="top:1250.64px;height:34.56px;line-height:34.56px;font-size:21.60px;font-weight:400;color:#666;font-family:'Liberation Sans','Noto Sans CJK SC',sans-serif;right:2300.00px;">116</span>
<span class="t" id="t89" style="top:1283.62px;height:34.56px;line-height:34.56px;font-size:21.60px;font-weight:400;color:#666;font-family:'Liberation Sans','Noto Sans CJK SC',sans-serif;right:2300.00px;">99</span>
<span class="t" id="t90" style="top:1316.60px;height:34.56px;line-height:34.56px;font-size:21.60px;font-weight:400;color:#666;font-family:'Liberation Sans','Noto Sans CJK SC',sans-serif;right:2300.00px;">83</span>
<span class="t" id="t91" style="top:1349.58px;height:34.56px;line-height:34.56px;font-size:21.60px;font-weight:400;color:#666;font-family:'Liberation Sans','Noto Sans CJK SC',sans-serif;right:2300.00px;">66</span>
<span class="t" id="t92" style="top:1382.56px;height:34.56px;line-height:34.56px;font-size:21.60px;font-weight:400;color:#666;font-family:'Liberation Sans','Noto Sans CJK SC',sans-serif;right:2300.00px;">49</span>
<span class="t" id="t93" style="top:1415.54px;height:34.56px;line-height:34.56px;font-size:21.60px;font-weight:400;color:#666;font-family:'Liberation Sans','Noto Sans CJK SC',sans-serif;right:2300.00px;">33</span>
<span class="t" id="t94" style="top:1448.52px;height:34.56px;line-height:34.56px;font-size:21.60px;font-weight:400;color:#666;font-family:'Liberation Sans','Noto Sans CJK SC',sans-serif;right:2300.00px;">16</span>
<span class="t" id="t95" style="top:1481.50px;height:34.56px;line-height:34.56px;font-size:21.60px;font-weight:400;color:#666;font-family:'Liberation Sans','Noto Sans CJK SC',sans-serif;right:2300.00px;">0</span>
<span class="t" id="t96" style="top:1117.52px;height:34.56px;line-height:34.56px;font-size:21.60px;font-weight:400;color:#666;font-family:'Liberation Sans','Noto Sans CJK SC',sans-serif;left:2350.00px;transform-origin:0 50%;transform:scaleX(1.0000);">2</span>
<span class="t" id="t97" style="top:1298.72px;height:34.56px;line-height:34.56px;font-size:21.60px;font-weight:400;color:#666;font-family:'Liberation Sans','Noto Sans CJK SC',sans-serif;left:2350.00px;transform-origin:0 50%;transform:scaleX(1.0000);">1</span>
<span class="t" id="t98" style="top:1481.52px;height:34.56px;line-height:34.56px;font-size:21.60px;font-weight:400;color:#666;font-family:'Liberation Sans','Noto Sans CJK SC',sans-serif;left:2350.00px;transform-origin:0 50%;transform:scaleX(1.0000);">0</span>
<span class="t" id="t99" style="top:1506.72px;height:34.56px;line-height:34.56px;font-size:21.60px;font-weight:400;color:#555;font-family:'Liberation Sans','Noto Sans CJK SC',sans-serif;left:117.20px;transform-origin:0 50%;transform:scaleX(0.8889);">00:00</span>
<span class="t" id="t100" style="top:1506.72px;height:34.56px;line-height:34.56px;font-size:21.60px;font-weight:400;color:#555;font-family:'Liberation Sans','Noto Sans CJK SC',sans-serif;left:212.60px;transform-origin:0 50%;transform:scaleX(0.8889);">01:02</span>
<span class="t" id="t101" style="top:1506.72px;height:34.56px;line-height:34.56px;font-size:21.60px;font-weight:400;color:#555;font-family:'Liberation Sans','Noto Sans CJK SC',sans-serif;left:330.80px;transform-origin:0 50%;transform:scaleX(0.8889);">02:04</span>
<span class="t" id="t102" style="top:1506.72px;height:34.56px;line-height:34.56px;font-size:21.60px;font-weight:400;color:#555;font-family:'Liberation Sans','Noto Sans CJK SC',sans-serif;left:449.00px;transform-origin:0 50%;transform:scaleX(0.8889);">03:06</span>
<span class="t" id="t103" style="top:1506.72px;height:34.56px;line-height:34.56px;font-size:21.60px;font-weight:400;color:#555;font-family:'Liberation Sans','Noto Sans CJK SC',sans-serif;left:567.20px;transform-origin:0 50%;transform:scaleX(0.8889);">04:08</span>
<span class="t" id="t104" style="top:1506.72px;height:34.56px;line-height:34.56px;font-size:21.60px;font-weight:400;color:#555;font-family:'Liberation Sans','Noto Sans CJK SC',sans-serif;left:685.40px;transform-origin:0 50%;transform:scaleX(0.8889);">05:10</span>
<span class="t" id="t105" style="top:1506.72px;height:34.56px;line-height:34.56px;font-size:21.60px;font-weight:400;color:#555;font-family:'Liberation Sans','Noto Sans CJK SC',sans-serif;left:803.60px;transform-origin:0 50%;transform:scaleX(0.8889);">06:12</span>
<span class="t" id="t106" style="top:1506.72px;height:34.56px;line-height:34.56px;font-size:21.60px;font-weight:400;color:#555;font-family:'Liberation Sans','Noto Sans CJK SC',sans-serif;left:921.80px;transform-origin:0 50%;transform:scaleX(0.8889);">07:14</span>
<span class="t" id="t107" style="top:1506.72px;height:34.56px;line-height:34.56px;font-size:21.60px;font-weight:400;color:#555;font-family:'Liberation Sans','Noto Sans CJK SC',sans-serif;left:1040.00px;transform-origin:0 50%;transform:scaleX(0.8889);">08:16</span>
<span class="t" id="t108" style="top:1506.72px;height:34.56px;line-height:34.56px;font-size:21.60px;font-weight:400;color:#555;font-family:'Liberation Sans','Noto Sans CJK SC',sans-serif;left:1158.20px;transform-origin:0 50%;transform:scaleX(0.8889);">09:18</span>
<span class="t" id="t109" style="top:1506.72px;height:34.56px;line-height:34.56px;font-size:21.60px;font-weight:400;color:#555;font-family:'Liberation Sans','Noto Sans CJK SC',sans-serif;left:1276.40px;transform-origin:0 50%;transform:scaleX(0.8889);">10:20</span>
<span class="t" id="t110" style="top:1506.72px;height:34.56px;line-height:34.56px;font-size:21.60px;font-weight:400;color:#555;font-family:'Liberation Sans','Noto Sans CJK SC',sans-serif;left:1394.60px;transform-origin:0 50%;transform:scaleX(0.9231);">11:22</span>
<span class="t" id="t111" style="top:1506.72px;height:34.56px;line-height:34.56px;font-size:21.60px;font-weight:400;color:#555;font-family:'Liberation Sans','Noto Sans CJK SC',sans-serif;left:1512.80px;transform-origin:0 50%;transform:scaleX(0.8889);">12:24</span>
<span class="t" id="t112" style="top:1506.72px;height:34.56px;line-height:34.56px;font-size:21.60px;font-weight:400;color:#555;font-family:'Liberation Sans','Noto Sans CJK SC',sans-serif;left:1631.00px;transform-origin:0 50%;transform:scaleX(0.8889);">13:26</span>
<span class="t" id="t113" style="top:1506.72px;height:34.56px;line-height:34.56px;font-size:21.60px;font-weight:400;color:#555;font-family:'Liberation Sans','Noto Sans CJK SC',sans-serif;left:1749.20px;transform-origin:0 50%;transform:scaleX(0.8889);">14:28</span>
<span class="t" id="t114" style="top:1506.72px;height:34.56px;line-height:34.56px;font-size:21.60px;font-weight:400;color:#555;font-family:'Liberation Sans','Noto Sans CJK SC',sans-serif;left:1867.40px;transform-origin:0 50%;transform:scaleX(0.8889);">15:30</span>
<span class="t" id="t115" style="top:1506.72px;height:34.56px;line-height:34.56px;font-size:21.60px;font-weight:400;color:#555;font-family:'Liberation Sans','Noto Sans CJK SC',sans-serif;left:1985.60px;transform-origin:0 50%;transform:scaleX(0.8889);">16:32</span>
<span class="t" id="t116" style="top:1506.72px;height:34.56px;line-height:34.56px;font-size:21.60px;font-weight:400;color:#555;font-family:'Liberation Sans','Noto Sans CJK SC',sans-serif;left:2103.80px;transform-origin:0 50%;transform:scaleX(0.8889);">17:34</span>
<span class="t" id="t117" style="top:1506.72px;height:34.56px;line-height:34.56px;font-size:21.60px;font-weight:400;color:#555;font-family:'Liberation Sans','Noto Sans CJK SC',sans-serif;left:2222.00px;transform-origin:0 50%;transform:scaleX(0.8889);">18:36</span>
<span class="t" id="t118" style="top:1575.92px;height:34.56px;line-height:34.56px;font-size:21.60px;font-weight:400;color:#444;font-family:'Liberation Sans','Noto Sans CJK SC',sans-serif;left:722.80px;transform-origin:0 50%;transform:scaleX(0.7619);">FPS</span>
<span class="t" id="t119" style="top:1575.92px;height:34.56px;line-height:34.56px;font-size:21.60px;font-weight:400;color:#444;font-family:'Liberation Sans','Noto Sans CJK SC',sans-serif;left:828.00px;transform-origin:0 50%;transform:scaleX(0.8757);">Smooth</span>
<span class="t" id="t120" style="top:1575.92px;height:34.56px;line-height:34.56px;font-size:21.60px;font-weight:400;color:#444;font-family:'Liberation Sans','Noto Sans CJK SC',sans-serif;left:966.80px;transform-origin:0 50%;transform:scaleX(0.8189);">1%Low(FPS)</span>
<span class="t" id="t121" style="top:1575.92px;height:34.56px;line-height:34.56px;font-size:21.60px;font-weight:400;color:#444;font-family:'Liberation Sans','Noto Sans CJK SC',sans-serif;left:1142.40px;transform-origin:0 50%;transform:scaleX(0.8360);">SmallJank</span>
<span class="t" id="t122" style="top:1575.92px;height:34.56px;line-height:34.56px;font-size:21.60px;font-weight:400;color:#444;font-family:'Liberation Sans','Noto Sans CJK SC',sans-serif;left:1298.80px;transform-origin:0 50%;transform:scaleX(0.7826);">Jank</span>
<span class="t" id="t123" style="top:1575.92px;height:34.56px;line-height:34.56px;font-size:21.60px;font-weight:400;color:#444;font-family:'Liberation Sans','Noto Sans CJK SC',sans-serif;left:1408.00px;transform-origin:0 50%;transform:scaleX(0.8416);">BigJank</span>
<span class="t" id="t124" style="top:1575.92px;height:34.56px;line-height:34.56px;font-size:21.60px;font-weight:400;color:#444;font-family:'Liberation Sans','Noto Sans CJK SC',sans-serif;left:1546.80px;transform-origin:0 50%;transform:scaleX(0.9062);">Stutter</span>
<span class="t" id="t125" style="top:1575.92px;height:34.56px;line-height:34.56px;font-size:21.60px;font-weight:400;color:#444;font-family:'Liberation Sans','Noto Sans CJK SC',sans-serif;left:1678.00px;transform-origin:0 50%;transform:scaleX(0.9057);">InterFrame</span>
<span class="t" id="t126" style="top:1579.36px;height:30.08px;line-height:30.08px;font-size:18.80px;font-weight:400;color:#3d5afe;font-family:'Liberation Sans','Noto Sans CJK SC',sans-serif;left:2218.00px;transform-origin:0 50%;transform:scaleX(0.9786);">全隐藏</span>
<span class="t" style="left:44.00px;top:1333.20px;font-size:21.60px;line-height:25.92px;font-weight:700;color:#222;font-family:'Liberation Sans','Noto Sans CJK SC',sans-serif;transform:translate(-50%,-50%) rotate(-90deg);">FPS</span>
<span class="t" style="left:2386.40px;top:1297.60px;font-size:21.60px;line-height:25.92px;font-weight:700;color:#222;font-family:'Liberation Sans','Noto Sans CJK SC',sans-serif;transform:translate(-50%,-50%) rotate(90deg);">Jank</span>
</div></body></html>
